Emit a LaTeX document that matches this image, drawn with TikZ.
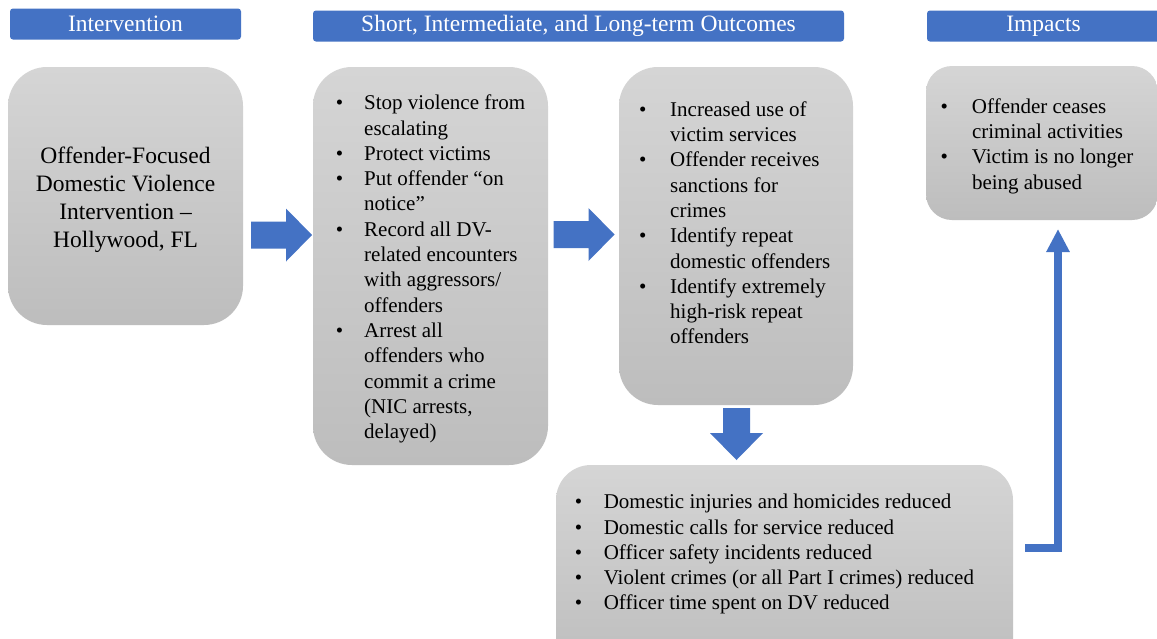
\documentclass[tikz,border=0pt]{standalone}
\usepackage{fontspec}
\setmainfont{Liberation Serif}
\usetikzlibrary{arrows.meta}

\definecolor{hdrblue}{HTML}{4472C4}
\definecolor{boxtop}{HTML}{D5D5D5}
\definecolor{boxbottom}{HTML}{BDBDBD}

% bullet cell of a given width
\newcommand\bul[1]{\makebox[#1][l]{\textbullet}}

\tikzset{
  header/.style={fill=hdrblue, rounded corners=3pt, inner sep=0pt,
    text=white, font=\fontsize{23.5}{28}\selectfont},
  stage/.style={top color=boxtop, bottom color=boxbottom, inner sep=0pt},
  listtext/.style={inner sep=0pt, anchor=north west,
    font=\fontsize{21}{25.3}\selectfont},
  flowline/.style={draw=hdrblue, line width=8pt, line join=miter,
    -{Triangle[width=22pt,length=23pt]}},
  rightblock/.pic={\fill[hdrblue] (-30.5,-13.5) -- (4.5,-13.5) -- (4.5,-26.5)
    -- (30.5,0) -- (4.5,26.5) -- (4.5,13.5) -- (-30.5,13.5) -- cycle;},
  downblock/.pic={\fill[hdrblue] (-13.5,-26) -- (13.5,-26) -- (13.5,-1)
    -- (26.5,-1) -- (0,26) -- (-26.5,-1) -- (-13.5,-1) -- cycle;}
}

\begin{document}
\begin{tikzpicture}[x=1pt, y=-1pt]
  \useasboundingbox (0,0) rectangle (1157,638);
  \fill[white] (0,0) rectangle (1157,638);
  \clip (0,0) rectangle (1157,638);

  % column headers
  \node[header, minimum width=231pt, minimum height=31pt] (hint) at (125.5,24) {Intervention};
  \node[header, minimum width=531pt, minimum height=31pt] (hout) at (578.5,26) {Short, Intermediate, and Long-term Outcomes};
  \node[header, minimum width=233pt, minimum height=31pt] (himp) at (1043.5,26) {Impacts};

  % rounded stage boxes
  \node[stage, rounded corners=39pt, minimum width=235pt, minimum height=258pt] (box1) at (125.5,196) {};
  \node[stage, rounded corners=39pt, minimum width=235pt, minimum height=398pt] (box2) at (430.5,266) {};
  \node[stage, rounded corners=39pt, minimum width=234pt, minimum height=338pt] (box3) at (736,236) {};
  \node[stage, rounded corners=26pt, minimum width=232pt, minimum height=154pt] (box4) at (1042,143) {};
  \node[stage, rounded corners=35pt, minimum width=457pt, minimum height=210pt] (box5) at (784.5,570) {};

  % intervention text
  \node[inner sep=0pt, align=center, font=\fontsize{23.5}{28.1}\selectfont] (tint) at (125.5,200)
    {Offender-Focused\\Domestic Violence\\Intervention –\\Hollywood, FL};

  % short-term outcomes
  \node[listtext] (tshort) at (335.6,91.8) {%
    \begin{tabular}{@{}l@{}l@{}}
      \bul{28.4pt} & Stop violence from\\
                   & escalating\\
      \bul{28.4pt} & Protect victims\\
      \bul{28.4pt} & Put offender “on\\
                   & notice”\\
      \bul{28.4pt} & Record all DV-\\
                   & related encounters\\
                   & with aggressors/\\
                   & offenders\\
      \bul{28.4pt} & Arrest all\\
                   & offenders who\\
                   & commit a crime\\
                   & (NIC arrests,\\
                   & delayed)
    \end{tabular}};

  % intermediate outcomes
  \node[listtext] (tmid) at (639,98.3) {%
    \begin{tabular}{@{}l@{}l@{}}
      \bul{31pt} & Increased use of\\
                 & victim services\\
      \bul{31pt} & Offender receives\\
                 & sanctions for\\
                 & crimes\\
      \bul{31pt} & Identify repeat\\
                 & domestic offenders\\
      \bul{31pt} & Identify extremely\\
                 & high-risk repeat\\
                 & offenders
    \end{tabular}};

  % impacts
  \node[listtext] (timp) at (940.3,95.3) {%
    \begin{tabular}{@{}l@{}l@{}}
      \bul{31.5pt} & Offender ceases\\
                   & criminal activities\\
      \bul{31.5pt} & Victim is no longer\\
                   & being abused
    \end{tabular}};

  % long-term outcomes
  \node[listtext] (tlong) at (574.6,490.8) {%
    \begin{tabular}{@{}l@{}l@{}}
      \bul{29pt} & Domestic injuries and homicides reduced\\
      \bul{29pt} & Domestic calls for service reduced\\
      \bul{29pt} & Officer safety incidents reduced\\
      \bul{29pt} & Violent crimes (or all Part I crimes) reduced\\
      \bul{29pt} & Officer time spent on DV reduced
    \end{tabular}};

  % block arrows between stages
  \pic at (281.5,235) {rightblock};
  \pic at (584,234.5) {rightblock};
  \pic at (736.5,434) {downblock};

  % elbow connector from long-term outcomes up to impacts
  \coordinate (outcomeout) at (1025,548);
  \coordinate (impactin) at (1058,229);
  \draw[flowline] (outcomeout) -| (impactin);
\end{tikzpicture}
\end{document}
